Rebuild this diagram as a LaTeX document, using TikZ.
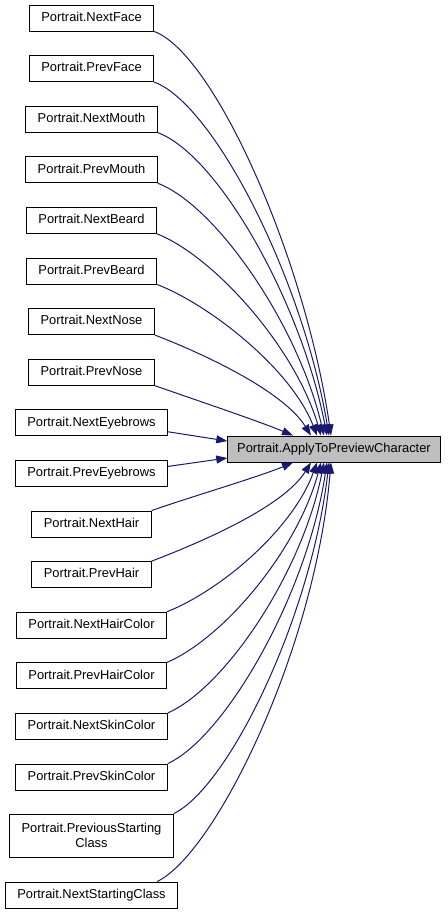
\documentclass[tikz,border=0pt]{standalone}
\usepackage{fontspec}
\setmainfont{Liberation Sans}
\usetikzlibrary{arrows.meta}
\definecolor{edgeblue}{HTML}{191970}
\definecolor{hlgray}{HTML}{BFBFBF}
\begin{document}
\begin{tikzpicture}[x=1pt,y=-1pt,
  fn/.style={draw=black, line width=0.9pt, fill=white,
    font=\fontsize{12.9}{15}\selectfont, inner xsep=12pt, inner ysep=0pt,
    minimum height=26pt, text height=9.3pt, text depth=2.7pt},
  fn2/.style={draw=black, line width=0.9pt, fill=white,
    font=\fontsize{12.9}{15}\selectfont, inner xsep=12pt, inner ysep=0pt,
    minimum height=43pt, align=center},
  e/.style={draw=edgeblue, line width=1pt, -{Triangle[length=11pt,width=8pt]}}]
\useasboundingbox (0,0) rectangle (447,915);
\node[fn] (n1) at (91.5,18) {Portrait.NextFace};
\node[fn] (n2) at (91.5,68.6) {Portrait.PrevFace};
\node[fn] (n3) at (91.5,119.2) {Portrait.NextMouth};
\node[fn] (n4) at (91.5,169.8) {Portrait.PrevMouth};
\node[fn] (n5) at (91.5,220.4) {Portrait.NextBeard};
\node[fn] (n6) at (91.5,271) {Portrait.PrevBeard};
\node[fn] (n7) at (91.5,321.6) {Portrait.NextNose};
\node[fn] (n8) at (91.5,372.2) {Portrait.PrevNose};
\node[fn] (n9) at (91.5,422.8) {Portrait.NextEyebrows};
\node[fn] (n10) at (91.5,473.4) {Portrait.PrevEyebrows};
\node[fn] (n11) at (91.5,524) {Portrait.NextHair};
\node[fn] (n12) at (91.5,574.6) {Portrait.PrevHair};
\node[fn] (n13) at (91.5,625.2) {Portrait.NextHairColor};
\node[fn] (n14) at (91.5,675.8) {Portrait.PrevHairColor};
\node[fn] (n15) at (91.5,726.4) {Portrait.NextSkinColor};
\node[fn] (n16) at (91.5,777) {Portrait.PrevSkinColor};
\node[fn2] (n17) at (91.5,835.5) {Portrait.PreviousStarting\\Class};
\node[fn] (n18) at (91.5,895) {Portrait.NextStartingClass};
\node[fn, fill=hlgray, inner xsep=9.5pt] (t) at (334,449) {Portrait.ApplyToPreviewCharacter};
% upper edges
\draw[e] (n1.south east) .. controls +(60,22) and +(-26,-178) .. ([xshift=-3pt]t.north);
\draw[e] (n2.south east) .. controls +(60,22) and +(-26,-156) .. ([xshift=-5pt]t.north);
\draw[e] (n3.south east) .. controls +(60,22) and +(-26,-134) .. ([xshift=-7pt]t.north);
\draw[e] (n4.south east) .. controls +(58,22) and +(-26,-111) .. ([xshift=-10pt]t.north);
\draw[e] (n5.south east) .. controls +(56,22) and +(-26,-89) .. ([xshift=-13pt]t.north);
\draw[e] (n6.south east) .. controls +(52,20) and +(-26,-67) .. ([xshift=-17pt]t.north);
\draw[e] (n7.south east) .. controls +(47,18) and +(-28,-45) .. ([xshift=-23pt]t.north);
\draw[e] (n8.south east) .. controls +(37,13) and +(-33,-14) .. ([xshift=-41pt]t.north);
\draw[e] ([yshift=-9pt]n9.east) -- ([yshift=8pt]t.west);
\draw[e] ([yshift=7pt]n10.east) -- ([yshift=-9pt]t.west);
% lower edges
\draw[e] (n11.north east) .. controls +(37,-13) and +(-33,14) .. ([xshift=-41pt]t.south);
\draw[e] (n12.north east) .. controls +(47,-18) and +(-28,45) .. ([xshift=-23pt]t.south);
\draw[e] (n13.north east) .. controls +(55,-22) and +(-24,66) .. ([xshift=-17pt]t.south);
\draw[e] (n14.north east) .. controls +(56,-24) and +(-24,89) .. ([xshift=-13pt]t.south);
\draw[e] (n15.north east) .. controls +(57,-25) and +(-22,111) .. ([xshift=-10pt]t.south);
\draw[e] (n16.north east) .. controls +(57,-26) and +(-20,133) .. ([xshift=-7pt]t.south);
\draw[e] (n17.north east) .. controls +(55,-27) and +(-18,155) .. ([xshift=-5pt]t.south);
\draw[e] ([xshift=-21pt]n18.north east) .. controls +(58,-28) and +(-16,188) .. ([xshift=-3pt]t.south);
\end{tikzpicture}
\end{document}
